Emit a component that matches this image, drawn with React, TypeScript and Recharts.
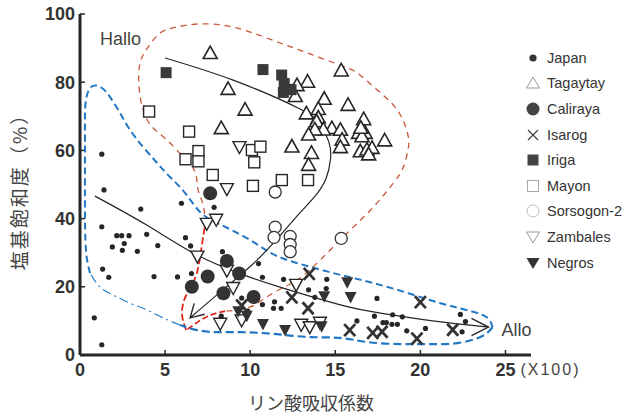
import React from 'react';
import { ScatterChart, Scatter, XAxis, YAxis } from 'recharts';

type P = { x: number; y: number };
const pts = (a: number[][]): P[] => a.map(([x, y]) => ({ x, y }));

// ---- data (x: phosphate absorption coefficient /100, y: base saturation %) ----
const japan = pts([
  [1.28, 58.9], [1.41, 48.4], [3.57, 42.8], [5.96, 44.5], [7.88, 43.3], [1.28, 37.6], [2.16, 35], [2.45, 35],
  [2.88, 35], [3.92, 35.4], [1.9, 31.7], [2.6, 32.7], [2.49, 30.7], [3.37, 30.4], [4.57, 32.1], [6.2, 34.4],
  [6.5, 32], [1.33, 25.2], [1.69, 22.8], [4.35, 23], [5.73, 22.9], [6.55, 23.9], [0.84, 10.9], [1.28, 3.0],
  [8.37, 30.3], [10.49, 26.8], [10.72, 22.8], [11.96, 22.2], [14.5, 22.2], [13.43, 19.1], [14.47, 19.5],
  [9.5, 16.7], [9.86, 12.9], [10.72, 14.8], [11.43, 15.6], [11.37, 13.7], [11.82, 13.7], [13.8, 16.9],
  [8.3, 11.4], [17.45, 16.6], [17.3, 11.4], [18.37, 11.8], [18.94, 11.2], [17.8, 9.5], [18.0, 9.5],
  [18.33, 9.0], [18.65, 9.0], [16.27, 10.0], [19.2, 7.1], [20.3, 7.8], [22.35, 11.9], [22.65, 9.8], [22.45, 6.8],
]);
const tagaytay = pts([
  [7.65, 88.4], [8.7, 77.9], [9.7, 71.8], [8.3, 66.4], [15.35, 83.3], [13.37, 80], [12.75, 79], [12.65, 75.8],
  [14.35, 75], [15.75, 73.2], [13.3, 70.7], [14.0, 72], [14.0, 69.5], [16.67, 69], [13.9, 68.4], [14.8, 66.4],
  [14.3, 66], [13.8, 66], [15.3, 65.9], [13.43, 64.5], [16.37, 65], [16.76, 65], [16.57, 64], [16.5, 66.5],
  [15.4, 63], [15.3, 60.8], [17.9, 62.8], [12.45, 61], [13.6, 59.1], [16.47, 59.6], [16.86, 60.1],
  [17.16, 60.6], [16.96, 58.7], [13.43, 55.6],
]);
const caliraya = pts([[7.65, 47.4], [8.63, 27.6], [9.35, 23.9], [7.5, 23], [6.57, 20], [8.43, 18.1], [10.2, 17]]);
const isarog = pts([
  [13.47, 23.8], [12.45, 16.9], [13.4, 13.7], [20.0, 15.5], [15.85, 7.3], [17.2, 6.5], [17.75, 6.8],
  [19.8, 4.8], [21.9, 7.4], [9.5, 14.5],
]);
const iriga = pts([[5.06, 82.8], [10.75, 83.7], [11.85, 82.1], [12.0, 79.6], [12.2, 77.9], [11.95, 77.0], [12.4, 77.8]]);
const mayon = pts([
  [4.06, 71.4], [6.41, 65.5], [6.96, 59.8], [6.2, 57.4], [6.96, 56.8], [7.8, 52.8], [10.1, 60.1], [10.6, 61.1],
  [10.24, 56.5], [10.16, 49.6], [11.86, 51.3], [13.4, 51.3],
]);
const sorsogon = pts([[11.47, 47.8], [11.47, 37.5], [11.4, 34.5], [12.35, 34.8], [12.35, 32.4], [12.35, 30.3], [15.35, 34.2]]);
const zambales = pts([
  [9.37, 61.1], [8.63, 48.8], [7.45, 38.6], [8.0, 39.8], [6.9, 29], [8.63, 24.9], [9.0, 19.8], [8.24, 9.3],
  [9.5, 10.3], [12.7, 20.7], [13.0, 9.0], [13.5, 8.3], [14.1, 9.6],
]);
const negros = pts([[15.7, 21.3], [15.9, 17], [14.35, 17.2], [10.75, 9.1], [12.05, 7.3], [14.2, 8.4], [9.3, 12.8], [9.8, 11.5]]);

// envelopes (traced outlines, data units), split where the line style changes
const halloOuter = pts([
  [7.35, 38.1], [7.24, 44.0], [6.94, 48.4], [6.76, 53.7], [6.06, 58.1], [5.12, 63.0], [4.24, 66.9], [3.71, 71.8],
  [3.47, 78.6], [3.53, 85.6], [4.0, 90.3], [4.71, 94.4], [5.71, 96.2], [7.06, 97.1], [8.65, 96.5], [10.18, 94.4],
  [11.76, 91.5], [13.35, 88.6], [15.29, 85.0], [16.29, 82.7], [17.47, 77.7], [18.65, 71.8], [19.24, 65.1],
  [19.29, 60.7], [19.0, 55.1], [18.41, 50.4], [17.24, 43.4], [15.71, 35.8], [14.12, 27.9], [12.76, 22.0],
  [11.35, 18.2], [10.0, 14.1], [8.53, 12.9],
]);
const halloRedBottom = pts([[8.53, 12.9], [7.53, 11.4], [6.76, 9.1], [6.24, 7.3]]);
const halloRedLeft = pts([[6.24, 7.3], [6.0, 11.7], [6.12, 16.1], [6.47, 19.6], [6.88, 24.3], [7.12, 30.8], [7.35, 38.1]]);
const alloBottom = pts([
  [24.24, 8.2], [23.65, 5.6], [22.18, 3.5], [20.41, 3.2], [18.82, 3.2], [16.88, 3.8], [15.29, 5.0], [13.35, 5.3],
  [11.35, 6.2], [9.41, 6.7], [8.06, 6.7], [6.88, 7.3], [5.88, 8.8],
]);
const alloLowerLeft = pts([[5.88, 8.8], [4.88, 10.9], [3.94, 13.2], [2.94, 15.2], [1.94, 17.6], [1.18, 19.9], [0.59, 24.0]]);
const alloTop = pts([
  [0.59, 24.0], [0.35, 30.8], [0.29, 43.4], [0.29, 55.1], [0.29, 65.1], [0.35, 74.8], [0.76, 78.9], [1.29, 78.3],
  [1.76, 75.7], [2.35, 71.0], [2.94, 66.0], [3.71, 61.0], [4.53, 56.3], [5.29, 52.2], [6.18, 47.5], [7.06, 41.9],
  [8.06, 38.7], [9.12, 36.1], [10.29, 32.8], [11.59, 29.0], [13.35, 26.1], [15.29, 23.5], [17.24, 21.1],
  [19.24, 18.2], [21.18, 15.2], [22.94, 12.9], [23.94, 10.9], [24.24, 8.2],
]);
// trend curves
const halloCurve = pts([
  [5.0, 87.1], [9.0, 80.6], [12.9, 72.2], [14.1, 67.6], [14.62, 62.5], [14.72, 57.5], [14.45, 51.7],
  [13.8, 46.5], [12.8, 41.0], [11.4, 33.0], [9.9, 25.5], [8.2, 18.3], [6.47, 10.9],
]);
const alloCurve = pts([
  [0.88, 46.6], [3.92, 38.1], [6.88, 29.3], [9.6, 23.5], [11.94, 19.6], [15.3, 14.7], [17.65, 12.3],
  [21.2, 9.7], [24.0, 8.2],
]);
const halloArrowTip = pts([[6.47, 10.9]]);
const alloArrowTip = pts([[24.0, 8.2]]);
const halloLabel = pts([[1.18, 90.9]]);
const alloLabel = pts([[24.76, 5.6]]);

const xTicks = [0, 5, 10, 15, 20, 25];
const yTicks = [0, 20, 40, 60, 80, 100];
const legendNames = ['Japan', 'Tagaytay', 'Caliraya', 'Isarog', 'Iriga', 'Mayon', 'Sorsogon-2', 'Zambales', 'Negros'];

// ---- styles ----
const FONT = '"Liberation Sans", "Noto Sans CJK JP", sans-serif';
const JFONT = '"Noto Sans CJK JP", sans-serif';
const INK = '#262626';

const none = () => <g />;
const SmallDot = (p: any) => <circle cx={p.cx} cy={p.cy} r={2.6} fill={INK} />;
const BigDot = (p: any) => <circle cx={p.cx} cy={p.cy} r={7} fill="#333" />;
const TriUp = (p: any) => (
  <polygon points={`${p.cx},${p.cy - 7.5} ${p.cx - 7},${p.cy + 5} ${p.cx + 7},${p.cy + 5}`} fill="#fff" stroke={INK} strokeWidth={1.6} strokeLinejoin="miter" />
);
const TriDown = (p: any) => (
  <polygon points={`${p.cx},${p.cy + 7} ${p.cx - 6.5},${p.cy - 5} ${p.cx + 6.5},${p.cy - 5}`} fill="#fff" stroke={INK} strokeWidth={1.4} />
);
const TriDownFilled = (p: any) => (
  <polygon points={`${p.cx},${p.cy + 6.5} ${p.cx - 6},${p.cy - 5} ${p.cx + 6},${p.cy - 5}`} fill="#333" />
);
const OpenSquare = (p: any) => <rect x={p.cx - 5.5} y={p.cy - 5.5} width={11} height={11} fill="#fff" stroke={INK} strokeWidth={1.4} />;
const FilledSquare = (p: any) => <rect x={p.cx - 5.5} y={p.cy - 5.5} width={11} height={11} fill="#3a3a3a" />;
const OpenCircle = (p: any) => <circle cx={p.cx} cy={p.cy} r={6} fill="#fff" stroke="#333" strokeWidth={1.3} />;
const XMark = (p: any) => (
  <g stroke="#333" strokeWidth={2.8} strokeLinecap="butt">
    <line x1={p.cx - 5.5} y1={p.cy - 6} x2={p.cx + 5.5} y2={p.cy + 6} />
    <line x1={p.cx + 5.5} y1={p.cy - 6} x2={p.cx - 5.5} y2={p.cy + 6} />
  </g>
);
const makeArrow = (backDeg: number, spread: number, len: number) => (p: any) => {
  const a1 = ((backDeg - spread) * Math.PI) / 180;
  const a2 = ((backDeg + spread) * Math.PI) / 180;
  const d = `M${p.cx + len * Math.cos(a1)},${p.cy + len * Math.sin(a1)} L${p.cx},${p.cy} L${p.cx + len * Math.cos(a2)},${p.cy + len * Math.sin(a2)}`;
  return <path d={d} fill="none" stroke={INK} strokeWidth={1.4} />;
};
const makeText = (t: string) => (p: any) => (
  <text x={p.cx} y={p.cy} fontSize={18} fontFamily={FONT} fill="#444">{t}</text>
);

const XTick = (props: any) => {
  const { x, y, payload } = props;
  return (
    <g>
      <text x={x} y={y} dy="0.75em" textAnchor="middle" fontSize={18} fontWeight="bold" fill="#333" fontFamily={FONT}>
        {payload.value}
      </text>
      {payload.value === 25 && (
        <text x={x + 15} y={y} dy="0.8em" fontSize={16} letterSpacing={2} fill="#444" fontFamily={FONT}>(X100)</text>
      )}
    </g>
  );
};

const legendIcon = (name: string) => {
  const c = 9;
  switch (name) {
    case 'Japan': return <circle cx={c} cy={c} r={3.6} fill="#333" />;
    case 'Tagaytay': return <polygon points="9,3 2.5,14 15.5,14" fill="none" stroke="#999" strokeWidth={1} />;
    case 'Caliraya': return <circle cx={c} cy={c} r={6.5} fill="#444" />;
    case 'Isarog': return <g stroke="#444" strokeWidth={1.2}><line x1={4} y1={4} x2={14} y2={14} /><line x1={14} y1={4} x2={4} y2={14} /></g>;
    case 'Iriga': return <rect x={3.5} y={3.5} width={11} height={11} fill="#444" />;
    case 'Mayon': return <rect x={3.5} y={3.5} width={11} height={11} fill="none" stroke="#aaa" strokeWidth={1} />;
    case 'Sorsogon-2': return <circle cx={c} cy={c} r={6} fill="none" stroke="#bbb" strokeWidth={1} />;
    case 'Zambales': return <polygon points="2.5,4 15.5,4 9,15" fill="none" stroke="#999" strokeWidth={1} />;
    default: return <polygon points="2.5,4 15.5,4 9,15" fill="#333" />;
  }
};

const envLine = (stroke: string, width: number, dash: string) => ({ stroke, strokeWidth: width, strokeDasharray: dash });

export default function App() {
  return (
    <div style={{ position: 'absolute', left: 0, top: 0, width: 638, height: 419, background: '#fff' }}>
      <ScatterChart width={638} height={419} margin={{ top: 14, right: 107, bottom: 34, left: 0 }}>
        <XAxis
          type="number"
          dataKey="x"
          domain={[0, 26.5]}
          ticks={xTicks}
          interval={0}
          height={30}
          axisLine={{ stroke: INK, strokeWidth: 3 }}
          tickLine={{ stroke: INK, strokeWidth: 1.5 }}
          tickSize={-5}
          tickMargin={12}
          tick={<XTick />}
          allowDataOverflow
          label={{
            content: () => (
              <text x={311} y={402} textAnchor="middle" dominantBaseline="central" fontSize={18} fill="#444" fontFamily={JFONT}>
                リン酸吸収係数
              </text>
            ),
          }}
        />
        <YAxis
          type="number"
          dataKey="y"
          domain={[0, 100]}
          ticks={yTicks}
          interval={0}
          width={80}
          axisLine={{ stroke: INK, strokeWidth: 3 }}
          tickLine={{ stroke: INK, strokeWidth: 1.5 }}
          tickSize={-5}
          tickMargin={10}
          tick={{ fontSize: 18, fontWeight: 'bold', fill: '#333', fontFamily: FONT }}
          allowDataOverflow
          label={{
            content: () => (
              <text transform="translate(18,187) rotate(-90)" textAnchor="middle" dominantBaseline="central" fontSize={19} fill="#444" fontFamily={JFONT} letterSpacing={2}>
                塩基飽和度（%）
              </text>
            ),
          }}
        />

        <Scatter data={halloOuter} shape={none} line={envLine('#c9573a', 1.3, '6 5')} lineJointType="natural" isAnimationActive={false} />
        <Scatter data={halloRedBottom} shape={none} line={envLine('#e3261c', 1.8, '6 3')} lineJointType="natural" isAnimationActive={false} />
        <Scatter data={halloRedLeft} shape={none} line={envLine('#e3261c', 1.8, '7 3')} lineJointType="natural" isAnimationActive={false} />
        <Scatter data={alloBottom} shape={none} line={envLine('#2277c4', 2.2, '8 4')} lineJointType="natural" isAnimationActive={false} />
        <Scatter data={alloLowerLeft} shape={none} line={envLine('#2a80c8', 1.2, '9 4 2 4')} lineJointType="natural" isAnimationActive={false} />
        <Scatter data={alloTop} shape={none} line={envLine('#2277c4', 2, '7 4')} lineJointType="natural" isAnimationActive={false} />
        <Scatter data={halloCurve} shape={none} line={{ stroke: INK, strokeWidth: 1.2 }} lineJointType="natural" isAnimationActive={false} />
        <Scatter data={alloCurve} shape={none} line={{ stroke: INK, strokeWidth: 1.2 }} lineJointType="natural" isAnimationActive={false} />
        <Scatter data={halloArrowTip} shape={makeArrow(-44, 30, 15)} isAnimationActive={false} />
        <Scatter data={alloArrowTip} shape={makeArrow(180, 27, 19)} isAnimationActive={false} />

        <Scatter name="Japan" data={japan} shape={SmallDot} isAnimationActive={false} />
        <Scatter name="Mayon" data={mayon} shape={OpenSquare} isAnimationActive={false} />
        <Scatter name="Sorsogon-2" data={sorsogon} shape={OpenCircle} isAnimationActive={false} />
        <Scatter name="Zambales" data={zambales} shape={TriDown} isAnimationActive={false} />
        <Scatter name="Tagaytay" data={tagaytay} shape={TriUp} isAnimationActive={false} />
        <Scatter name="Iriga" data={iriga} shape={FilledSquare} isAnimationActive={false} />
        <Scatter name="Caliraya" data={caliraya} shape={BigDot} isAnimationActive={false} />
        <Scatter name="Negros" data={negros} shape={TriDownFilled} isAnimationActive={false} />
        <Scatter name="Isarog" data={isarog} shape={XMark} isAnimationActive={false} />

        <Scatter data={halloLabel} shape={makeText('Hallo')} isAnimationActive={false} />
        <Scatter data={alloLabel} shape={makeText('Allo')} isAnimationActive={false} />
      </ScatterChart>

      <div style={{ position: 'absolute', left: 524, top: 45, fontFamily: FONT, fontSize: 14.5, color: '#333' }}>
        {legendNames.map((n) => (
          <div key={n} style={{ display: 'flex', alignItems: 'center', height: 25.6 }}>
            <svg width={18} height={18} style={{ marginRight: 5 }}>{legendIcon(n)}</svg>
            <span>{n}</span>
          </div>
        ))}
      </div>
    </div>
  );
}
